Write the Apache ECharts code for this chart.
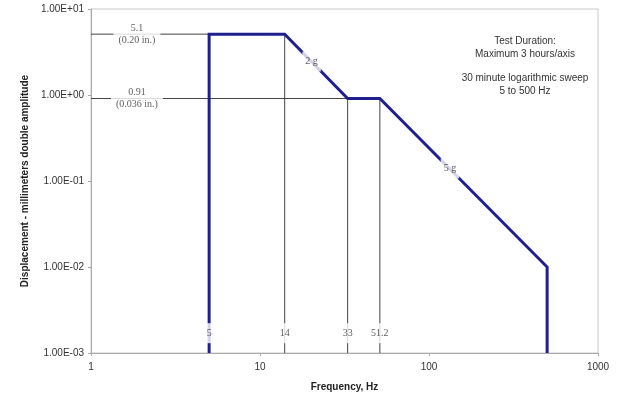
<!DOCTYPE html>
<html>
<head>
<meta charset="utf-8">
<script src="https://cdn.jsdelivr.net/npm/echarts@6/dist/echarts.min.js"></script>
<style>html,body{margin:0;padding:0;background:#fff;}#c{width:621px;height:397px;}</style>
</head>
<body>
<div id="c"></div>
<script>
// Vibration profile (frequency in Hz, displacement in mm double amplitude)
const profileFreq = [5, 5, 14, 33, 51.2, 500, 500];
const profileDisp = [0.001, 5.1, 5.1, 0.91, 0.91, 0.01, 0.001];

// Reference (thin black) lines
const refHFreqEnd = [14, 51.2];
const refHDisp = [5.1, 0.91];
const refVFreq = [14, 33, 51.2];
const refVDispTop = [5.1, 0.91, 0.91];

// Annotations
const freqLabelText = ['5', '14', '33', '51.2'];
const freqLabelX = [5, 14, 33, 51.2];
const freqLabelY = 0.0017;
const dispLabelText = ['5.1\n(0.20 in.)', '0.91\n(0.036 in.)'];
const dispLabelX = [1.87, 1.87];
const dispLabelY = [5.1, 0.91];
const gLabelText = ['2 g', '5 g'];
const gLabelX = [20.2, 133];
const gLabelY = [2.45, 0.14];

// Axes
const xMin = 1, xMax = 1000;
const yMin = 0.001, yMax = 10;
const xTickLabels = ['1', '10', '100', '1000'];
const yTickLabels = ['1.00E-03', '1.00E-02', '1.00E-01', '1.00E+00', '1.00E+01'];

const minAxisGray = '#aaaaaa';
const refColor = '#444444';
const profileColor = '#1f1f8f';

const profileData = profileFreq.map((f, i) => [f, profileDisp[i]]);

const refSeries = [];
refHFreqEnd.forEach((fe, i) => {
  refSeries.push({
    type: 'line', data: [[xMin, refHDisp[i]], [fe, refHDisp[i]]],
    symbol: 'none', lineStyle: { color: refColor, width: 1 }, z: 2, silent: true
  });
});
refVFreq.forEach((f, i) => {
  refSeries.push({
    type: 'line', data: [[f, refVDispTop[i]], [f, yMin]],
    symbol: 'none', lineStyle: { color: refColor, width: 1 }, z: 2, silent: true
  });
});

const serifLabel = {
  show: true, position: 'inside', fontFamily: 'Liberation Serif', fontSize: 10,
  color: '#333', backgroundColor: '#ffffff', padding: [3, 3], lineHeight: 12, align: 'center'
};

function labelSeries(xs, ys, texts, extra) {
  return {
    type: 'scatter', symbolSize: 1, itemStyle: { color: 'rgba(0,0,0,0)' }, z: 10, silent: true,
    data: xs.map((x, i) => ({ value: [x, Array.isArray(ys) ? ys[i] : ys], name: texts[i] })),
    label: Object.assign({}, serifLabel, { formatter: p => p.name }, extra || {})
  };
}

function expLabel(v) {
  const e = Math.round(Math.log10(v));
  const idx = e - Math.round(Math.log10(yMin));
  return yTickLabels[idx] !== undefined ? yTickLabels[idx] : '';
}
function xLabel(v) {
  const e = Math.round(Math.log10(v));
  return xTickLabels[e] !== undefined ? xTickLabels[e] : '';
}

const chart = echarts.init(document.getElementById('c'), null, { renderer: 'canvas' });
chart.setOption({
  animation: false,
  backgroundColor: '#ffffff',
  grid: { left: 91, right: 23, top: 9, bottom: 42, show: true, borderColor: '#c8c8c8', borderWidth: 1, backgroundColor: 'transparent' },
  xAxis: {
    type: 'log', logBase: 10, min: xMin, max: xMax,
    name: 'Frequency, Hz', nameLocation: 'middle', nameGap: 29,
    nameTextStyle: { fontFamily: 'Liberation Sans', fontWeight: 'bold', fontSize: 10, color: '#222' },
    axisLine: { lineStyle: { color: minAxisGray, width: 1 } },
    axisTick: { show: true, length: 3, lineStyle: { color: minAxisGray } },
    minorTick: { show: false },
    splitLine: { show: false },
    axisLabel: { formatter: xLabel, fontFamily: 'Liberation Sans', fontSize: 10, color: '#333', margin: 9 }
  },
  yAxis: {
    type: 'log', logBase: 10, min: yMin, max: yMax,
    name: 'Displacement - millimeters double amplitude', nameLocation: 'middle', nameGap: 54,
    nameTextStyle: { fontFamily: 'Liberation Sans', fontWeight: 'bold', fontSize: 10, color: '#222' },
    axisLine: { show: true, lineStyle: { color: minAxisGray, width: 1 } },
    axisTick: { show: true, length: 3, lineStyle: { color: minAxisGray } },
    splitLine: { show: false },
    axisLabel: { formatter: expLabel, fontFamily: 'Liberation Sans', fontSize: 10, color: '#333', margin: 7 }
  },
  graphic: [
    { type: 'text', x: 525, y: 34, style: { text: 'Test Duration:\nMaximum 3 hours/axis', textAlign: 'center', fontFamily: 'Liberation Sans', fontSize: 10, lineHeight: 13.5, fill: '#333' } },
    { type: 'text', x: 525, y: 71, style: { text: '30 minute logarithmic sweep\n5 to 500 Hz', textAlign: 'center', fontFamily: 'Liberation Sans', fontSize: 10, lineHeight: 13.5, fill: '#333' } }
  ],
  series: refSeries.concat([
    {
      type: 'line', data: profileData, symbol: 'none', z: 4, silent: true,
      lineStyle: { color: profileColor, width: 3, join: 'miter' }
    },
    labelSeries(freqLabelX, freqLabelY, freqLabelText, { padding: [4, 3] }),
    labelSeries(dispLabelX, dispLabelY, dispLabelText, { padding: [2, 5] }),
    labelSeries(gLabelX, gLabelY, gLabelText, { padding: [4, 3] })
  ])
});
</script>
</body>
</html>
